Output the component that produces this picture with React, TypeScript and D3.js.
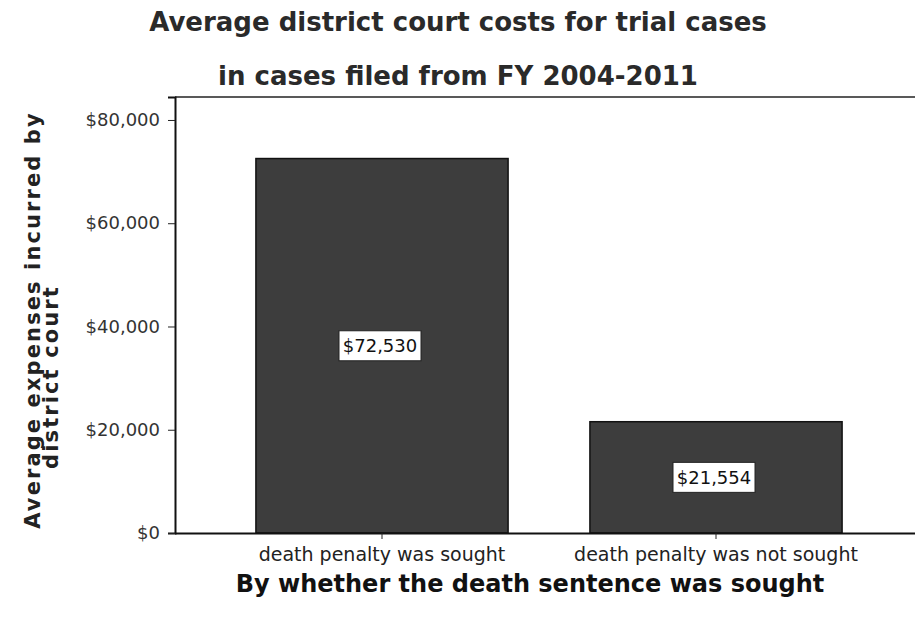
import React, { useEffect, useRef } from 'react';
import * as d3 from 'd3';

const categories = ['death penalty was sought', 'death penalty was not sought'];
const avgCosts = [72530, 21554];
const yTicks = [0, 20000, 40000, 60000, 80000];

const W = 915;
const H = 619;
const FONT = '"DejaVu Sans", Verdana, sans-serif';

const App = () => {
  const ref = useRef<SVGSVGElement | null>(null);

  useEffect(() => {
    const svg = d3.select(ref.current);
    svg.selectAll('*').remove();

    const left = 175;
    const bottom = 533;
    const top = 97;

    const y = d3.scaleLinear().domain([0, 84450]).range([bottom, top]);
    const x = d3.scaleBand<string>()
      .domain(categories)
      .range([215, 883])
      .paddingInner(0.245)
      .paddingOuter(0.1225);

    const fmt = (v: number) => '$' + d3.format(',')(v);

    // titles
    svg.append('text')
      .attr('x', 458).attr('y', 31)
      .attr('text-anchor', 'middle')
      .attr('font-family', FONT).attr('font-weight', 'bold').attr('font-size', 26)
      .attr('fill', '#2a2a2a')
      .text('Average district court costs for trial cases');
    svg.append('text')
      .attr('x', 458).attr('y', 85)
      .attr('text-anchor', 'middle')
      .attr('font-family', FONT).attr('font-weight', 'bold').attr('font-size', 26)
      .attr('fill', '#2a2a2a')
      .text('in cases filed from FY 2004-2011');

    // top frame line
    svg.append('line')
      .attr('x1', left).attr('x2', W).attr('y1', top).attr('y2', top)
      .attr('stroke', '#222').attr('stroke-width', 1.5);

    // bars
    const bars = categories.map((c, i) => ({ c, v: avgCosts[i] }));
    svg.append('g').selectAll('rect')
      .data(bars)
      .enter()
      .append('rect')
      .attr('x', d => x(d.c)!)
      .attr('y', d => y(d.v))
      .attr('width', x.bandwidth())
      .attr('height', d => bottom - y(d.v))
      .attr('fill', '#3d3d3d')
      .attr('stroke', '#111')
      .attr('stroke-width', 1.5);

    // value labels
    const lab = svg.append('g').selectAll('g')
      .data(bars)
      .enter()
      .append('g')
      .attr('transform', d => `translate(${x(d.c)! + x.bandwidth() / 2 - 2},${y(d.v / 2)})`);
    lab.append('rect')
      .attr('x', -41).attr('y', -15).attr('width', 82).attr('height', 30)
      .attr('fill', '#fff').attr('stroke', '#222').attr('stroke-width', 1);
    lab.append('text')
      .attr('text-anchor', 'middle').attr('dy', '0.36em')
      .attr('font-family', FONT).attr('font-size', 18)
      .attr('fill', '#111')
      .text(d => fmt(d.v));

    // y axis
    const yAxis = svg.append('g')
      .attr('transform', `translate(${left},0)`)
      .call(d3.axisLeft(y).tickValues(yTicks).tickFormat(d => fmt(+d)).tickSize(7).tickPadding(8));
    yAxis.select('.domain').attr('stroke', '#111').attr('stroke-width', 2);
    yAxis.selectAll('.tick line').attr('stroke', '#222');
    yAxis.selectAll('.tick text')
      .attr('font-family', FONT).attr('font-size', 18).attr('fill', '#333');

    // x axis
    const xAxis = svg.append('g')
      .attr('transform', `translate(0,${bottom})`)
      .call(d3.axisBottom(x).tickSize(6).tickPadding(9));
    xAxis.select('.domain').attr('d', `M${left},0.5H${W}`).attr('stroke', '#111').attr('stroke-width', 2);
    xAxis.selectAll('.tick line').attr('stroke', '#222');
    xAxis.selectAll('.tick text')
      .attr('font-family', FONT).attr('font-size', 19).attr('fill', '#222');

    // axis titles
    svg.append('text')
      .attr('x', 530).attr('y', 592)
      .attr('text-anchor', 'middle')
      .attr('font-family', FONT).attr('font-weight', 'bold').attr('font-size', 24)
      .attr('fill', '#111')
      .text('By whether the death sentence was sought');

    svg.append('text')
      .attr('transform', 'translate(40,320) rotate(-90)')
      .attr('text-anchor', 'middle')
      .attr('font-family', FONT).attr('font-weight', 'bold').attr('font-size', 21)
      .attr('letter-spacing', 2.1)
      .attr('fill', '#222')
      .text('Average expenses incurred by');
    svg.append('text')
      .attr('transform', 'translate(58,377) rotate(-90)')
      .attr('text-anchor', 'middle')
      .attr('font-family', FONT).attr('font-weight', 'bold').attr('font-size', 21)
      .attr('letter-spacing', 2.1)
      .attr('fill', '#222')
      .text('district court');
  }, []);

  return (
    <svg
      ref={ref}
      width={W}
      height={H}
      style={{ position: 'absolute', left: 0, top: 0, background: '#fff' }}
    />
  );
};

export default App;
